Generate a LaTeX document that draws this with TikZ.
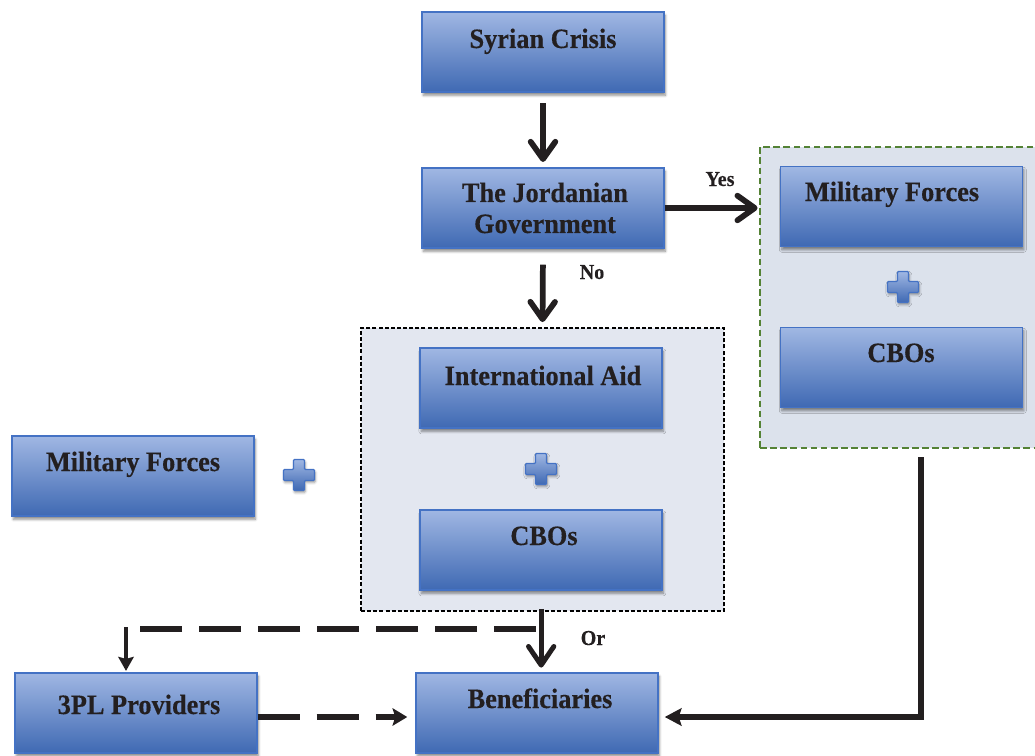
\documentclass[tikz,border=0pt]{standalone}
\usepackage{fontspec}
\setmainfont{Liberation Serif}[FakeStretch=0.94, BoldFeatures={FakeBold=0.35}]
\usetikzlibrary{arrows.meta,calc,shadows.blur}

\definecolor{boxtop}{HTML}{A0B7E3}
\definecolor{boxmid}{HTML}{7F9DD6}
\definecolor{boxbot}{HTML}{3F69B3}
\definecolor{boxedge}{HTML}{4472C4}
\definecolor{groupfill}{HTML}{E3E7F0}
\definecolor{groupfillb}{HTML}{DCE2EC}
\definecolor{greenedge}{HTML}{548235}
\definecolor{ink}{HTML}{231F20}

\tikzset{
  box/.style={draw=boxedge, line width=1.1pt,
    top color=boxtop, middle color=boxmid, bottom color=boxbot,
    minimum width=181.5pt, minimum height=60pt, inner sep=0pt,
    blur shadow={shadow xshift=1pt, shadow yshift=-2.5pt,
      shadow blur steps=6, shadow opacity=45}},
  btext/.style={font=\fontsize{21}{24}\selectfont\bfseries, text=ink,
    anchor=base, inner sep=0pt},
  ltext/.style={font=\fontsize{16}{18}\selectfont\bfseries, text=ink,
    anchor=base, inner sep=0pt},
  blackgroup/.style={draw=black, line width=0.9pt, dash pattern=on 3pt off 1.6pt,
    fill=groupfill, inner sep=0pt},
  greengroup/.style={draw=greenedge, line width=1.6pt, dash pattern=on 5pt off 2.6pt,
    fill=groupfillb, inner sep=0pt},
  barbarrow/.style={draw=ink, line width=4.3pt,
    -{Straight Barb[length=13pt,width=18.5pt,round]}},
  orarrow/.style={draw=ink, line width=3.7pt,
    -{Straight Barb[length=14pt,width=19pt,round]}},
  dashline/.style={draw=ink, line width=4pt, dash pattern=on 31.5pt off 12.75pt},
  fillarrow/.style={draw=ink, line width=3.9pt,
    -{Stealth[length=12.5pt,width=13pt,inset=2pt]}},
  dropdown/.style={draw=ink, line width=3pt,
    -{Stealth[length=10.5pt,width=11.5pt,inset=1.5pt]}},
  plus/.pic={
    \path[draw=boxedge, line width=0.9pt, rounded corners=0.8pt,
      top color=boxtop, bottom color=boxbot,
      blur shadow={shadow xshift=0.6pt, shadow yshift=-1.5pt, shadow blur steps=4, shadow opacity=40}]
      (-5.5,-15.5) -- (5.5,-15.5) -- (5.5,-5.5) -- (15.5,-5.5) -- (15.5,5.5)
      -- (5.5,5.5) -- (5.5,15.5) -- (-5.5,15.5) -- (-5.5,5.5) -- (-15.5,5.5)
      -- (-15.5,-5.5) -- (-5.5,-5.5) -- cycle;
  }
}

\begin{document}
\begin{tikzpicture}[x=0.75pt, y=-0.75pt]
\useasboundingbox (0,0) rectangle (1035,756);

% group frames
\node[blackgroup, minimum width=272.25pt, minimum height=212.25pt] (ci) at (542.5,469.5) {};
\node[greengroup, minimum width=210pt, minimum height=225.75pt] (rc) at (900,297.5) {};

% boxes
\node[box] (sc)  at (543,52)    {};
\node[box] (jg)  at (543,208)   {};
\node[box] (mfr) at (901.5,206.5) {};
\node[box] (cbr) at (901.5,367.5) {};
\node[box] (ia)  at (541,388)   {};
\node[box] (cbc) at (541,550)   {};
\node[box] (mfl) at (133,476)   {};
\node[box] (tpl) at (136,713)   {};
\node[box] (ben) at (537,713)   {};

% box texts
\node[btext] (tsc)  at (543,48)  {Syrian Crisis};
\node[btext] (tjg1) at (545,202) {The Jordanian};
\node[btext] (tjg2) at (545,233) {Government};
\node[btext] (tmfr) at (892,201) {Military Forces};
\node[btext] (tcbr) at (901,362) {CBOs};
\node[btext] (tia)  at (543,385) {International Aid};
\node[btext] (tcbc) at (544,545) {CBOs};
\node[btext] (tmfl) at (133,471) {Military Forces};
\node[btext] (ttpl) at (139,714) {3PL Providers};
\node[btext] (tben) at (540,708) {Beneficiaries};

% plus signs
\pic at (903,287) {plus};
\pic at (541,469) {plus};
\pic at (299,475) {plus};

% connectors
\draw[barbarrow, shorten <=8pt, shorten >=4pt] (sc.south) -- (jg.north);
\draw[barbarrow, shorten <=12pt, shorten >=4pt] (jg.south) -- (ci.north);
\draw[barbarrow, shorten >=1pt] (jg.east) -- (jg.east -| rc.west);
\draw[orarrow, shorten <=-2pt, shorten >=3.5pt] ([xshift=-1pt]ci.south) -- ([xshift=-1pt]ci.south |- ben.north);

\coordinate (fork) at (541,629);
\coordinate (bend) at (126,629);
\draw[dashline, shorten <=3.75pt, shorten >=10.5pt] (fork) -- (bend);
\draw[dropdown, shorten <=-1.5pt, shorten >=1pt] (bend) -- (bend |- tpl.north);
\draw[dashline, -{Stealth[length=11pt,width=13pt,inset=2pt]}, shorten >=6pt]
  ([yshift=-3pt]tpl.east) -- ([yshift=-3pt]tpl.east -| ben.west);
\draw[fillarrow, shorten <=6pt, shorten >=4.5pt]
  ([xshift=15.75pt]rc.south) |- ([yshift=-3pt]ben.east);

% branch labels
\node[ltext] (yes) at (720,186) {Yes};
\node[ltext] (no)  at (592,279) {No};
\node[ltext] (or)  at (593,645) {Or};
\end{tikzpicture}
\end{document}
